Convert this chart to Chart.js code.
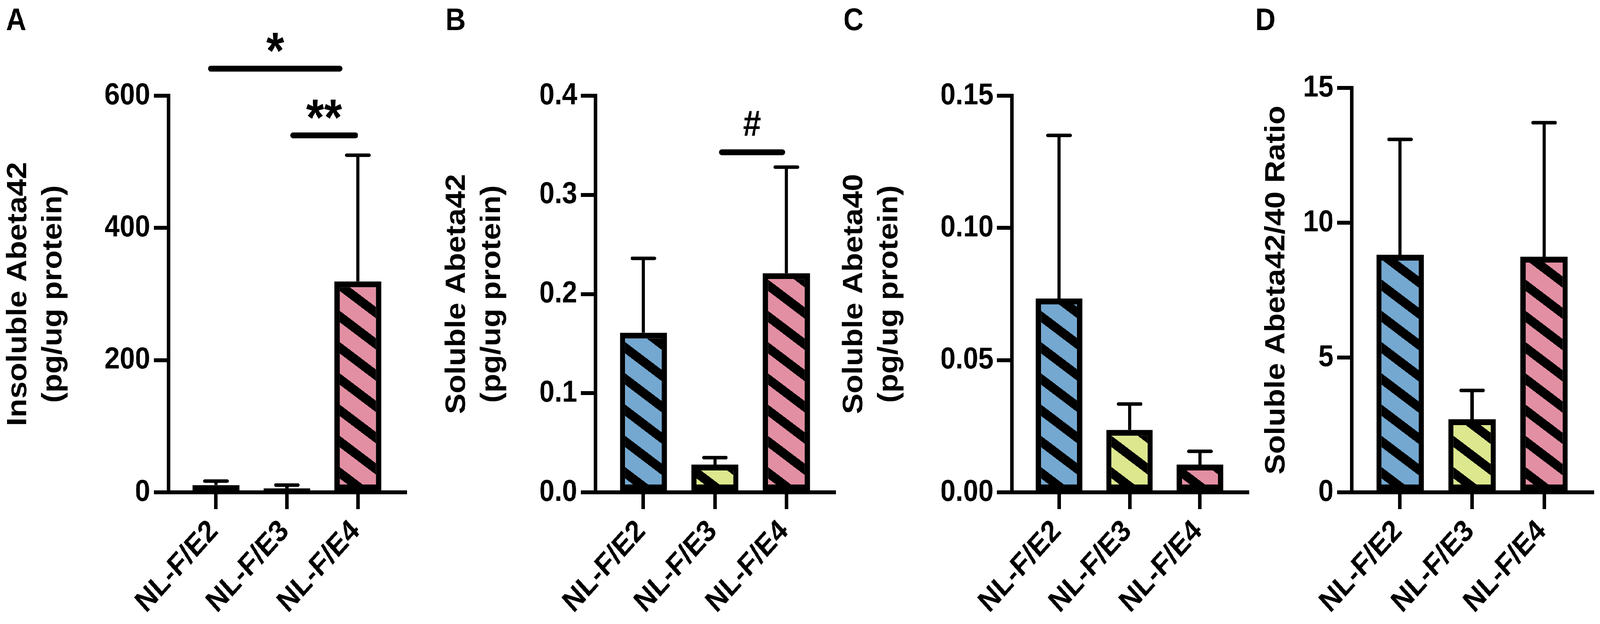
<!DOCTYPE html>
<html>
<head>
<meta charset="utf-8">
<script src="https://cdn.jsdelivr.net/npm/chart.js@4.4.0/dist/chart.umd.min.js"></script>
<style>
  html, body { margin: 0; padding: 0; background: #ffffff; overflow: hidden; }
  #wrap { position: absolute; left: 0; top: 0; width: 4559px; height: 1597px; transform-origin: 0 0; background: #ffffff; }
  canvas { position: absolute; top: 0; }
</style>
</head>
<body>
<div id="wrap">
<canvas id="cA"></canvas>
<canvas id="cB"></canvas>
<canvas id="cC"></canvas>
<canvas id="cD"></canvas>
</div>
<script>
// ---------------- data ----------------
const categories = ['NL-F/E2', 'NL-F/E3', 'NL-F/E4'];
const barColors = ['#74a8d0', '#dce78e', '#e38fa3'];

// A: Insoluble Abeta42 (pg/ug protein)
const insolubleAb42Mean = [11, 6, 319];
const insolubleAb42Sem  = [6, 5, 191];
const yTicksA  = [0, 200, 400, 600];
const yLabelsA = ['0', '200', '400', '600'];
const sigA = [
  { from: 0.89, to: 2.78, level: 641, text: '*' },
  { from: 2.05, to: 3.00, level: 540, text: '**' }
];

// B: Soluble Abeta42 (pg/ug protein)
const solubleAb42Mean = [0.161, 0.028, 0.221];
const solubleAb42Sem  = [0.075, 0.007, 0.107];
const yTicksB  = [0, 0.1, 0.2, 0.3, 0.4];
const yLabelsB = ['0.0', '0.1', '0.2', '0.3', '0.4'];
const sigB = [
  { from: 2.06, to: 2.98, level: 0.343, text: '#' }
];

// C: Soluble Abeta40 (pg/ug protein)
const solubleAb40Mean = [0.0733, 0.0236, 0.0105];
const solubleAb40Sem  = [0.0617, 0.0098, 0.0050];
const yTicksC  = [0, 0.05, 0.10, 0.15];
const yLabelsC = ['0.00', '0.05', '0.10', '0.15'];
const sigC = [];

// D: Soluble Abeta42/40 Ratio
const ratioMean = [8.81, 2.71, 8.74];
const ratioSem  = [4.28, 1.07, 4.97];
const yTicksD  = [0, 5, 10, 15];
const yLabelsD = ['0', '5', '10', '15'];
const sigD = [];

// ---------------- layout / style ----------------
const FAM = '"Liberation Sans", Arial, Helvetica, sans-serif';
const W = 4559, H = 1597;
const AXIS_BOTTOM = 1260;
const XAXIS_H = H - AXIS_BOTTOM;

// stretch the 4559x1597 drawing over the whole viewport
(function fitPage() {
  const vw = window.innerWidth || document.documentElement.clientWidth || W;
  const vh = window.innerHeight || document.documentElement.clientHeight || H;
  document.getElementById('wrap').style.transform = 'scale(' + (vw / W) + ',' + (vh / H) + ')';
})();

const panels = [
  { id: 'cA', letter: 'A', letterX: 17, canvasLeft: 0,    canvasWidth: 1200, axisX: 480,  areaRight: 1155, top: 245,
    title: ['Insoluble Abeta42', '(pg/ug protein)'], titleX: 53,
    mean: insolubleAb42Mean, sem: insolubleAb42Sem, yTicks: yTicksA, yLabels: yLabelsA, sig: sigA },
  { id: 'cB', letter: 'B', letterX: 1269, canvasLeft: 1160, canvasWidth: 1260, axisX: 1697, areaRight: 2377, top: 245,
    title: ['Soluble Abeta42', '(pg/ug protein)'], titleX: 1303,
    mean: solubleAb42Mean, sem: solubleAb42Sem, yTicks: yTicksB, yLabels: yLabelsB, sig: sigB },
  { id: 'cC', letter: 'C', letterX: 2403, canvasLeft: 2390, canvasWidth: 1200, axisX: 2883, areaRight: 3554, top: 245,
    title: ['Soluble Abeta40', '(pg/ug protein)'], titleX: 2435,
    mean: solubleAb40Mean, sem: solubleAb40Sem, yTicks: yTicksC, yLabels: yLabelsC, sig: sigC },
  { id: 'cD', letter: 'D', letterX: 3577, canvasLeft: 3560, canvasWidth: 999,  axisX: 3852, areaRight: 4537, top: 225,
    title: ['Soluble Abeta42/40 Ratio'], titleX: 3638,
    mean: ratioMean, sem: ratioSem, yTicks: yTicksD, yLabels: yLabelsD, sig: sigD }
];

const TITLE_SIZE = 79, TITLE_LH = 1.27;
const BORDER_W = 15;

function makeOverlay(p) {
  return {
    id: 'overlay' + p.letter,
    afterDatasetsDraw(chart) {
      const ctx = chart.ctx;
      const meta = chart.getDatasetMeta(0);
      const ys = chart.scales.y, xs = chart.scales.x;
      // hatch
      meta.data.forEach(el => {
        const { x, y, base, width } = el.getProps(['x', 'y', 'base', 'width'], true);
        const l = x - width / 2, r = x + width / 2, t = Math.min(y, base), b = Math.max(y, base);
        const inset = Math.min(BORDER_W, (b - t) / 2, width / 2);
        const il = l + inset, ir = r - inset, it = t + inset, ib = b - inset;
        if (ib - it < 1) return;
        ctx.save();
        ctx.beginPath(); ctx.rect(il, it, ir - il, ib - it); ctx.clip();
        ctx.strokeStyle = '#000'; ctx.lineWidth = 24; ctx.lineCap = 'butt';
        const slope = 0.68, period = 80, w = ir - il;
        const yStart = Math.max(y, base) - 45 + 2 * period;
        for (let yl = yStart; yl > it - slope * w - period; yl -= period) {
          ctx.beginPath();
          ctx.moveTo(il - 20, yl - 20 * slope);
          ctx.lineTo(ir + 20, yl + (w + 20) * slope);
          ctx.stroke();
        }
        ctx.restore();
      });
      // error bars (upper only)
      ctx.save();
      ctx.strokeStyle = '#000'; ctx.lineWidth = 9;
      meta.data.forEach((el, i) => {
        const x = el.x;
        const y0 = ys.getPixelForValue(p.mean[i]);
        const y1 = ys.getPixelForValue(p.mean[i] + p.sem[i]);
        ctx.lineCap = 'butt';
        ctx.beginPath(); ctx.moveTo(x, y0); ctx.lineTo(x, y1); ctx.stroke();
        ctx.lineCap = 'round';
        ctx.beginPath(); ctx.moveTo(x - 32, y1); ctx.lineTo(x + 32, y1); ctx.stroke();
      });
      ctx.restore();
      // significance bars
      p.sig.forEach(s => {
        const x1 = xs.getPixelForValue(s.from), x2 = xs.getPixelForValue(s.to), yy = ys.getPixelForValue(s.level);
        ctx.save();
        ctx.strokeStyle = '#000'; ctx.lineWidth = 15; ctx.lineCap = 'round';
        ctx.beginPath(); ctx.moveTo(x1 + 7, yy); ctx.lineTo(x2 - 7, yy); ctx.stroke();
        const target = s.text === '#' ? 64 : 50;
        ctx.font = 'bold 100px ' + FAM;
        let m = ctx.measureText(s.text);
        const h = m.actualBoundingBoxAscent + m.actualBoundingBoxDescent;
        const fs = 100 * target / h;
        ctx.font = 'bold ' + fs.toFixed(1) + 'px ' + FAM;
        m = ctx.measureText(s.text);
        ctx.fillStyle = '#000'; ctx.textAlign = 'center'; ctx.textBaseline = 'alphabetic';
        ctx.fillText(s.text, (x1 + x2) / 2, yy - 42 - m.actualBoundingBoxDescent);
        ctx.restore();
      });
    },
    afterDraw(chart) {
      const ctx = chart.ctx;
      ctx.save();
      ctx.fillStyle = '#000';
      ctx.font = 'bold 80px ' + FAM;
      ctx.textAlign = 'left'; ctx.textBaseline = 'alphabetic';
      ctx.fillText(p.letter, p.letterX - p.canvasLeft, 77);
      ctx.restore();
    }
  };
}

function makePanel(p) {
  const cv = document.getElementById(p.id);
  cv.width = p.canvasWidth; cv.height = H;
  cv.style.left = p.canvasLeft + 'px';
  cv.style.width = p.canvasWidth + 'px'; cv.style.height = H + 'px';
  const points = categories.map((c, i) => ({ x: i + 1, y: p.mean[i] }));
  const yMax = p.yTicks[p.yTicks.length - 1];
  const tickFont = { family: FAM, size: 78, weight: 'bold' };
  new Chart(cv, {
    type: 'bar',
    data: {
      datasets: [{
        data: points,
        backgroundColor: barColors,
        borderColor: '#000',
        borderWidth: BORDER_W,
        borderSkipped: false,
        barPercentage: 0.66,
        categoryPercentage: 1
      }]
    },
    options: {
      responsive: false,
      animation: false,
      devicePixelRatio: 1,
      events: [],
      layout: { padding: { left: 0, right: p.canvasWidth - (p.areaRight - p.canvasLeft), top: p.top, bottom: 0 } },
      plugins: { legend: { display: false }, tooltip: { enabled: false } },
      scales: {
        x: {
          type: 'linear', min: 0.33, max: 3.67, offset: false,
          border: { display: true, color: '#000', width: 10 },
          grid: { display: true, drawOnChartArea: false, drawTicks: true, tickLength: 43, tickWidth: 10, lineWidth: 10, color: '#000', tickColor: '#000', offset: false },
          ticks: { autoSkip: false, minRotation: 45, maxRotation: 45, color: '#000', font: tickFont, padding: 11, labelOffset: -6,
                   callback: (v) => categories[Math.round(v) - 1] },
          afterBuildTicks: (s) => { s.ticks = categories.map((c, i) => ({ value: i + 1 })); },
          afterFit: (s) => { s.height = XAXIS_H; }
        },
        y: {
          min: 0, max: yMax,
          border: { display: true, color: '#000', width: 10 },
          grid: { display: true, drawOnChartArea: false, drawTicks: true, tickLength: 42, tickWidth: 10, lineWidth: 10, color: '#000', tickColor: '#000' },
          ticks: { color: '#000', font: tickFont, padding: 10,
                   callback: (v, i) => p.yLabels[i] },
          afterBuildTicks: (s) => { s.ticks = p.yTicks.map(v => ({ value: v })); },
          afterFit: (s) => { s.width = p.axisX - p.canvasLeft; },
          title: {
            display: true, text: p.title, color: '#000',
            font: { family: FAM, size: TITLE_SIZE, weight: 'bold', lineHeight: TITLE_LH },
            padding: { top: p.titleX - p.canvasLeft - TITLE_SIZE * TITLE_LH / 2, bottom: 0 }
          }
        }
      }
    },
    plugins: [makeOverlay(p)]
  });
}

panels.forEach(makePanel);
</script>
</body>
</html>
